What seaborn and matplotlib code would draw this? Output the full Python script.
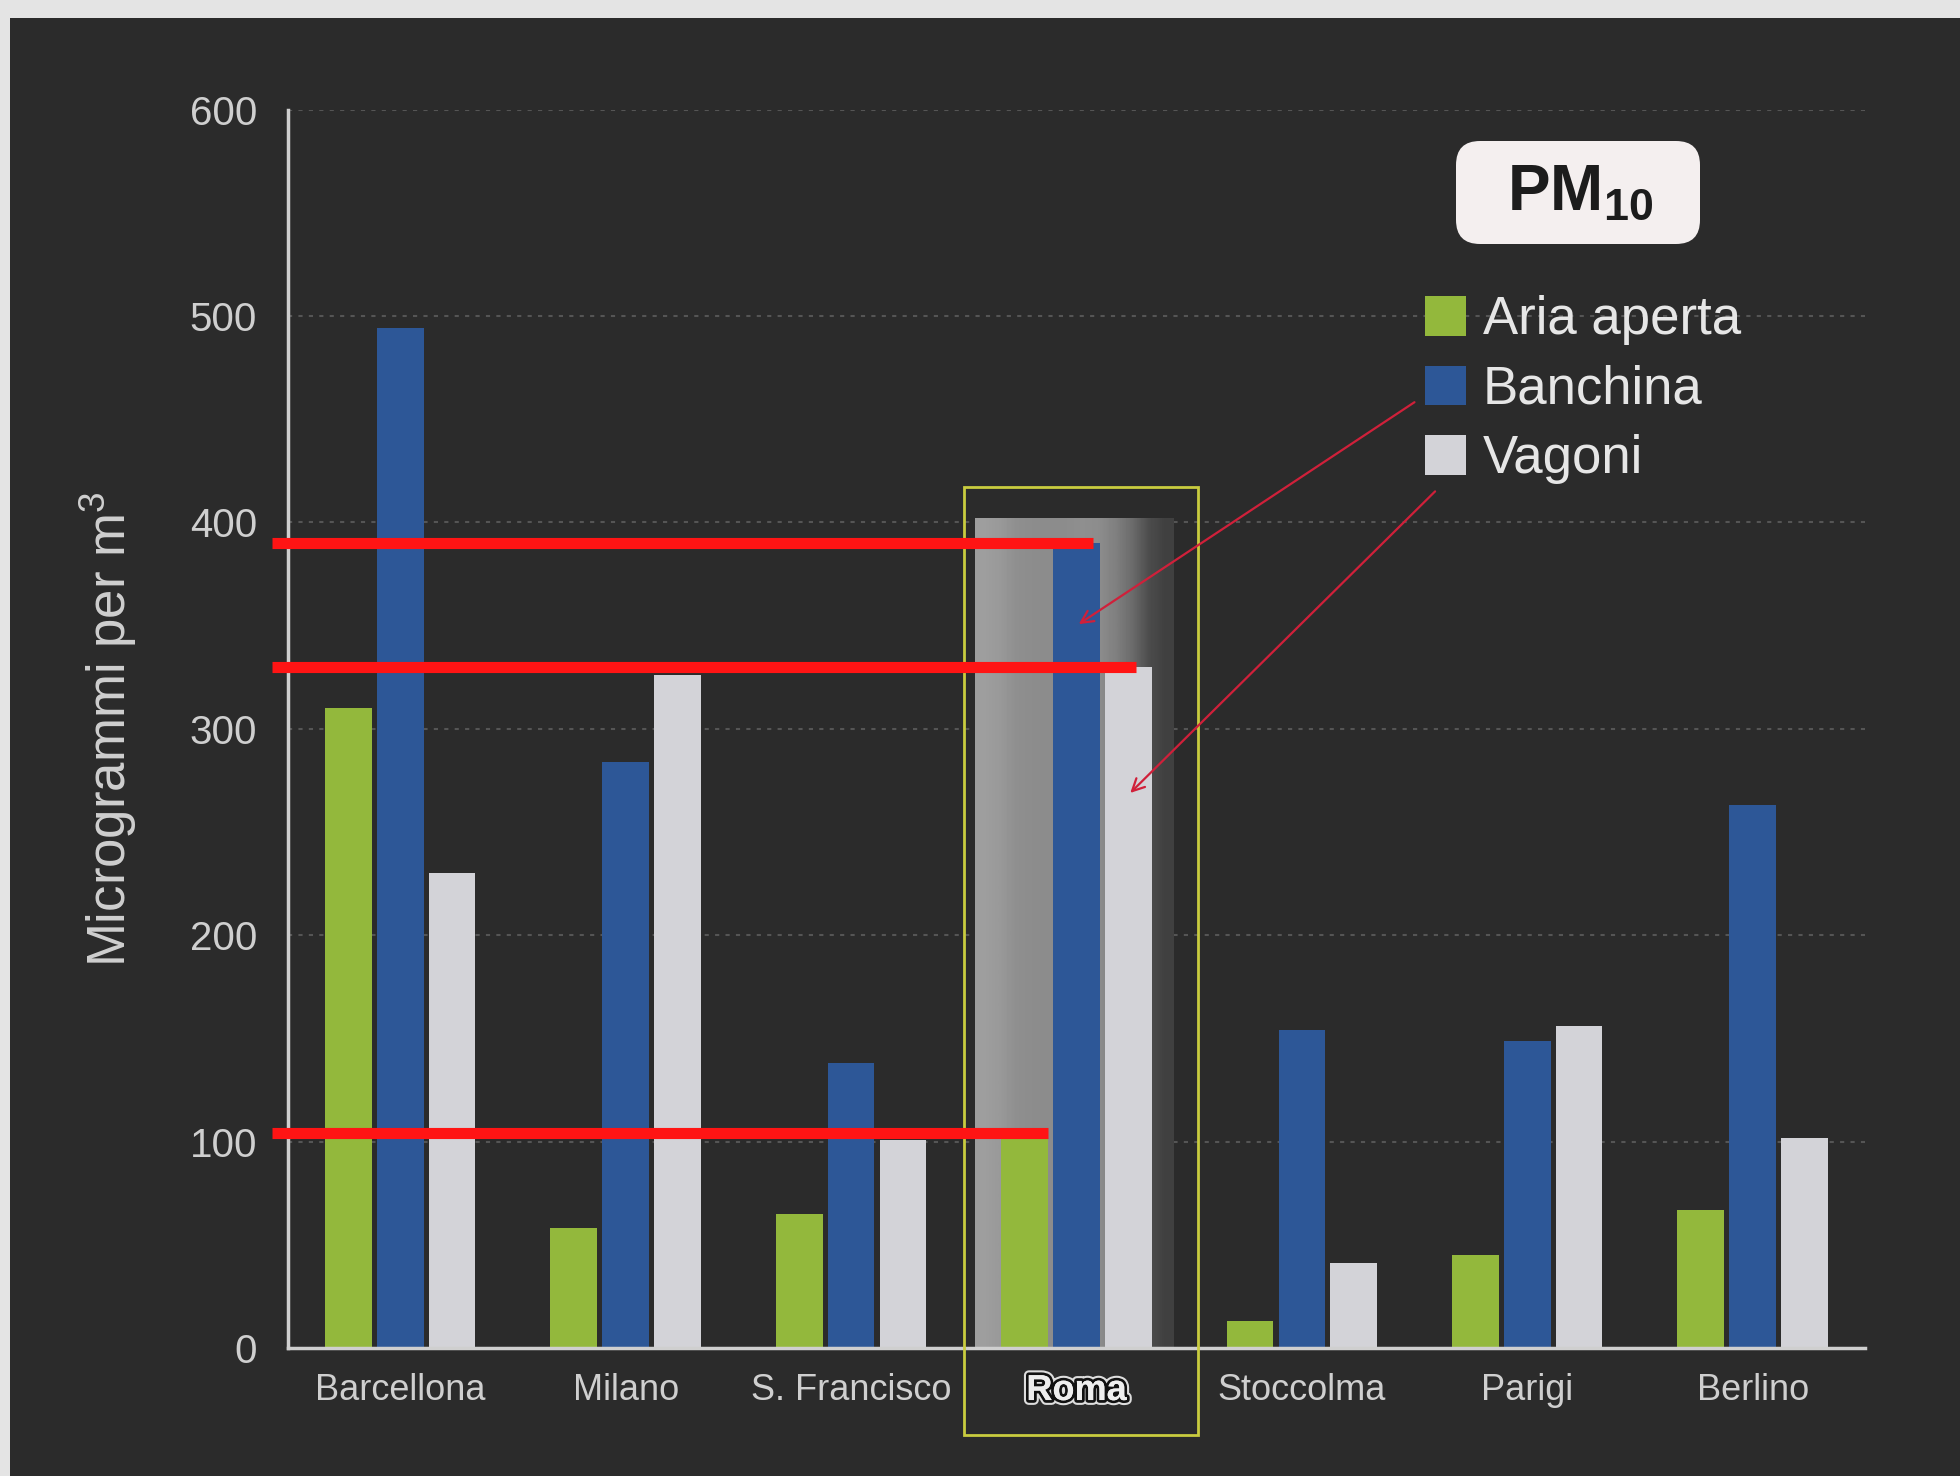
import numpy as np
import pandas as pd
import seaborn as sns
import matplotlib.pyplot as plt
from matplotlib.patches import Rectangle, Patch, FancyBboxPatch
import matplotlib.patheffects as pe

# dati (microgrammi per m3, PM10)
citta = ["Barcellona", "Milano", "S. Francisco", "Roma", "Stoccolma", "Parigi", "Berlino"]
serie = ["Aria aperta", "Banchina", "Vagoni"]
aria_aperta = [310, 58, 65, 104, 13, 45, 67]
banchina = [494, 284, 138, 390, 154, 149, 263]
vagoni = [230, 326, 101, 330, 41, 156, 102]
y_ticks = [0, 100, 200, 300, 400, 500, 600]
colori = ["#93b83c", "#2d5797", "#d3d3d8"]

df = pd.DataFrame({
    "citta": citta * len(serie),
    "serie": np.repeat(serie, len(citta)),
    "valore": aria_aperta + banchina + vagoni,
})

sns.set_style("dark")
plt.rcParams["font.family"] = ["Liberation Sans", "DejaVu Sans"]
plt.rcParams["mathtext.fontset"] = "custom"
plt.rcParams["mathtext.rm"] = "Liberation Sans"
plt.rcParams["mathtext.bf"] = "Liberation Sans:bold"

sfondo = "#2b2b2b"
chiaro = "#cfcfcf"

fig = plt.figure(figsize=(19.6, 14.76), dpi=100, facecolor="#e4e4e4")
fig.patches.append(Rectangle((10 / 1960, 0), 1, 1 - 18 / 1476, transform=fig.transFigure,
                             facecolor=sfondo, edgecolor="none", zorder=-10))
ax = fig.add_axes([0.1467, 0.0867, 0.805, 0.839])
ax.set_facecolor("none")

sns.barplot(data=df, x="citta", y="valore", hue="serie", palette=colori, width=0.69, gap=0.1,
            saturation=1, linewidth=0, legend=False, ax=ax, zorder=2)

# evidenza Roma
i_roma = citta.index("Roma")
grad = np.array([[0.62, 0.6, 0.56, 0.55, 0.55, 0.55, 0.56, 0.55, 0.5, 0.42, 0.3, 0.25]])
ax.imshow(grad, extent=[i_roma - 0.45, i_roma + 0.43, 0, 402], aspect="auto", cmap="gray",
          vmin=0, vmax=1, interpolation="bilinear", zorder=1)
ax.add_patch(Rectangle((i_roma - 0.5, -42), 1.04, 459, fill=False, edgecolor="#c9cc3f", lw=2,
                       clip_on=False, zorder=5))

ax.set_xlim(-0.5, len(citta) - 0.5)
ax.set_ylim(0, 600)

# assi
for s in ["top", "right"]:
    ax.spines[s].set_visible(False)
for s in ["left", "bottom"]:
    ax.spines[s].set_color(chiaro)
    ax.spines[s].set_linewidth(2.5)
ax.set_yticks(y_ticks)
ax.set_yticklabels([str(v) for v in y_ticks])
ax.tick_params(axis="y", colors=chiaro, labelsize=29, length=10, width=2, pad=12, direction="out")
ax.set_xticks(range(len(citta)))
ax.set_xticklabels(citta)
ax.tick_params(axis="x", which="major", colors=chiaro, labelsize=26, length=0, pad=18)
ax.set_xticks(np.arange(-0.5, len(citta)), minor=True)
ax.tick_params(axis="x", which="minor", colors=chiaro, length=12, width=2, direction="out")
ax.yaxis.grid(True, color="#555555", linestyle=(0, (2, 3)), lw=1.5)
ax.xaxis.grid(False)
ax.set_xlabel("")
ax.set_ylabel("Microgrammi per m$^3$", color=chiaro, fontsize=38, labelpad=36)

lab = ax.get_xticklabels()[i_roma]
lab.set_fontweight("bold")
lab.set_color("#eeeeee")
lab.set_path_effects([pe.withStroke(linewidth=7, foreground="#dddddd"),
                      pe.withStroke(linewidth=4, foreground="#111111"), pe.Normal()])

# linee rosse e frecce
rosso = "#ff1414"
b_verde = ax.containers[0][i_roma]
b_blu = ax.containers[1][i_roma]
b_grigio = ax.containers[2][i_roma]
ax.hlines(aria_aperta[i_roma], -0.57, b_verde.get_x() + b_verde.get_width(), color=rosso, lw=8, zorder=6, clip_on=False)
ax.hlines(banchina[i_roma], -0.57, b_blu.get_x() + b_blu.get_width() * 0.85, color=rosso, lw=8, zorder=6, clip_on=False)
ax.hlines(vagoni[i_roma], -0.57, b_grigio.get_x() + b_grigio.get_width() * 0.67, color=rosso, lw=8, zorder=6, clip_on=False)

ax.annotate("", xy=(b_blu.get_x() + b_blu.get_width() / 2, banchina[i_roma] - 40), xytext=(4.51, 459),
            arrowprops=dict(arrowstyle="->", color="#d0203a", lw=1.6, mutation_scale=22), zorder=7)
ax.annotate("", xy=(b_grigio.get_x() + b_grigio.get_width() / 2, vagoni[i_roma] - 62), xytext=(4.6, 416),
            arrowprops=dict(arrowstyle="->", color="#d0203a", lw=1.6, mutation_scale=22), zorder=7)

# legenda
maniglie = [Patch(facecolor=c, edgecolor="none") for c in colori]
leg = fig.legend(maniglie, serie, loc="upper left", bbox_to_anchor=(0.727, 0.80), frameon=False,
                 fontsize=38, handlelength=0.78, handleheight=0.78, handletextpad=0.32,
                 labelspacing=0.37, borderpad=0, borderaxespad=0)
for t in leg.get_texts():
    t.set_color("#e6e6e6")

# riquadro PM10
fig.patches.append(FancyBboxPatch((1456, 1232), 244, 103, boxstyle="round,pad=0,rounding_size=24",
                                  transform=None, facecolor="#f4efef", edgecolor="none"))
fig.text(1580 / 1960, 1 - 192 / 1476, r"$\mathbf{PM}_{\mathbf{10}}$", fontsize=46, color="#1c1c1c",
         ha="center", va="center")

fig.savefig("out.png", dpi=100, facecolor=fig.get_facecolor())
